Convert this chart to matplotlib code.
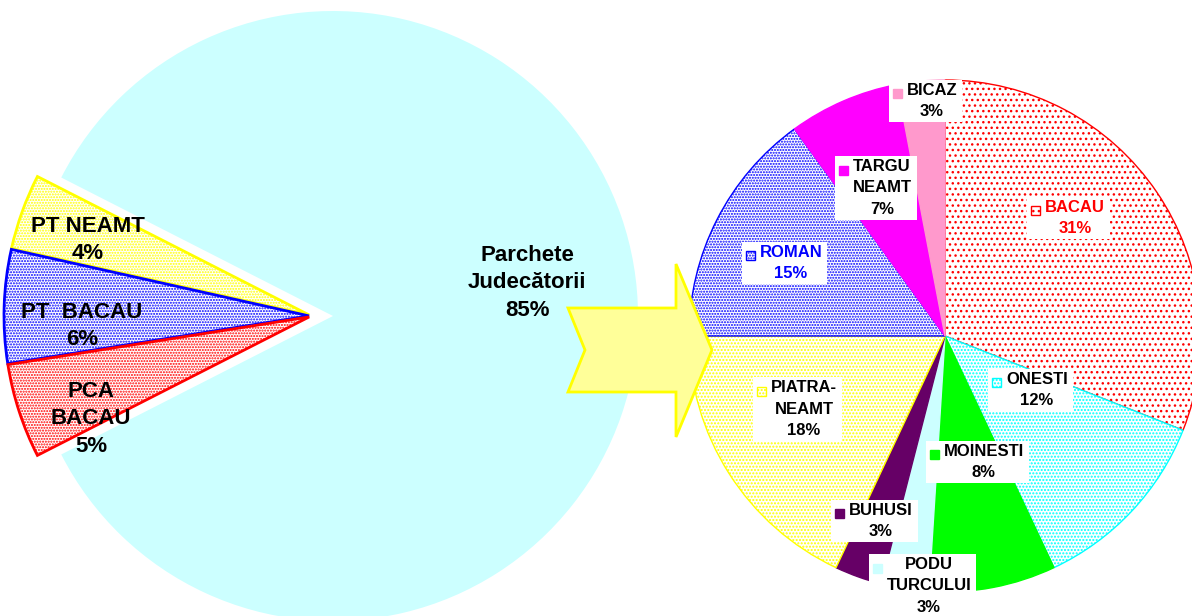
import matplotlib.pyplot as plt
from matplotlib.patches import Polygon, Rectangle

plt.rcParams['font.family'] = ['Liberation Sans', 'DejaVu Sans']
plt.rcParams['font.weight'] = 'bold'
plt.rcParams['hatch.linewidth'] = 1.0

W, H = 1192, 616

# left pie: all prosecutor offices
main_label = 'Parchete\nJudecătorii'
main_value = 85
small_labels = ['PT NEAMT', 'PT  BACAU', 'PCA\nBACAU']
small_values = [4, 6, 5]

# right pie: split of "Parchete Judecătorii"
right_labels = ['BACAU', 'ONESTI', 'MOINESTI', 'PODU\nTURCULUI', 'BUHUSI',
                'PIATRA-\nNEAMT', 'ROMAN', 'TARGU\nNEAMT', 'BICAZ']
right_values = [31, 12, 8, 3, 3, 18, 15, 7, 3]

# styles
small_edges = ['#FFFF00', '#0000FF', '#FF0000']
main_text_pos = (527, 283)
small_text_pos = [(88, 240), (82, 326), (91, 419)]

right_faces = ['white', 'white', '#00FF00', '#CCFFFF', '#660066',
               'white', 'white', '#FF00FF', '#FF99CC']
right_edges = ['#FF0000', '#00FFFF', '#00FF00', '#CCFFFF', '#660066',
               '#FFFF00', '#0000FF', '#FF00FF', '#FF99CC']
right_hatches = ['...', '.....', None, None, None, '.....', '......', None, None]
right_text_col = ['#FF0000', 'black', 'black', 'black', 'black',
                  'black', '#0000FF', 'black', 'black']
right_text_pos = [(1075, 218), (1037, 390), (984, 462), (929, 586), (881, 521),
                  (804, 409), (791, 263), (882, 188), (932, 101)]


def py(y):
    # pixel row -> data y (y axis points up)
    return H - y


fig = plt.figure(figsize=(W / 100, H / 100), dpi=100)
ax = fig.add_axes([0, 0, 1, 1])

# main slice of the left pie
ax.pie([main_value / 100], normalize=False, startangle=-153, counterclock=True,
       center=(333, py(316)), radius=305, colors=['#CCFFFF'], frame=True,
       wedgeprops=dict(linewidth=0))

# the three pulled-out slices
sw, _ = ax.pie([v / 100 for v in small_values], normalize=False,
               startangle=180 - 27, counterclock=True, explode=[3, 3, 3],
               center=(312, py(316)), radius=305, colors=['white'] * 3, frame=True)
for w, ec in zip(sw, small_edges):
    w.set_edgecolor(ec)
    w.set_linewidth(2.0)
    w.set_hatch('......')

rw, _ = ax.pie(right_values, startangle=90, counterclock=False,
               center=(945, py(336)), radius=256, colors=right_faces, frame=True)
for w, ec, h in zip(rw, right_edges, right_hatches):
    w.set_edgecolor(ec)
    w.set_linewidth(1.0)
    if h:
        w.set_hatch(h)

# big arrow between the two pies
arrow_px = [(568, 308), (676, 308), (676, 264), (712, 350), (676, 437),
            (676, 392), (568, 392), (585, 350)]
ax.add_patch(Polygon([(x, py(y)) for x, y in arrow_px], closed=True,
                     fc='#FFFF99', ec='#FFFF00', lw=2, zorder=3))

# left labels
ax.text(main_text_pos[0], py(main_text_pos[1]), f'{main_label}\n{main_value}%',
        ha='center', va='center', fontsize=16, linespacing=1.4, zorder=6)
for lab, v, (x, y) in zip(small_labels, small_values, small_text_pos):
    ax.text(x, py(y), f'{lab}\n{v}%', ha='center', va='center', fontsize=16,
            linespacing=1.42, color='black', zorder=6)

# right labels with white boxes and legend keys
rtexts = []
for lab, v, c, (x, y) in zip(right_labels, right_values, right_text_col, right_text_pos):
    t = ax.text(x, py(y), f'{lab}\n{v}%', ha='center', va='center', fontsize=12,
                linespacing=1.52, color=c, zorder=6)
    rtexts.append(t)

ax.set_xlim(0, W)
ax.set_ylim(0, H)
ax.set_aspect('equal')
ax.axis('off')

fig.canvas.draw()
renderer = fig.canvas.get_renderer()
inv = ax.transData.inverted()
for t, w in zip(rtexts, rw):
    bb = t.get_window_extent(renderer).transformed(inv)
    x0, y0, x1, y1 = bb.x0 - 18, bb.y0 - 3, bb.x1 + 5, bb.y1 + 3
    ax.add_patch(Rectangle((x0, y0), x1 - x0, y1 - y0, fc='white', ec='none', zorder=4))
    ky = bb.y1 - 11
    ax.add_patch(Rectangle((x0 + 4, ky - 4.5), 9, 9, fc=w.get_facecolor(),
                           ec=w.get_edgecolor(), hatch=w.get_hatch(), lw=1, zorder=5))

fig.savefig('out.png', dpi=100)
